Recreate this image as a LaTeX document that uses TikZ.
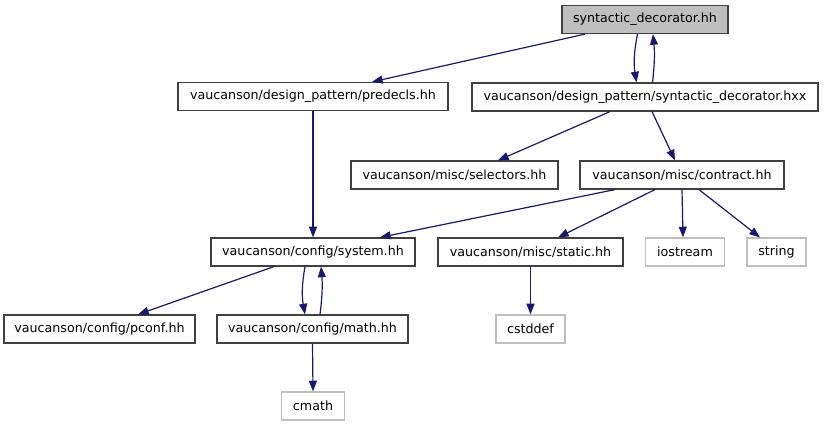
\documentclass[tikz,border=0pt]{standalone}
\usepackage{fontspec}
\setmainfont{DejaVu Sans}
\usetikzlibrary{arrows.meta,calc}
\definecolor{edgeblue}{HTML}{191970}
\definecolor{boxline}{HTML}{404040}
\definecolor{extline}{HTML}{BFBFBF}
\definecolor{rootfill}{HTML}{BFBFBF}
\tikzset{
  box/.style={draw=boxline,line width=0.9pt,rectangle,inner sep=0pt,minimum height=21pt,font=\fontsize{9.5pt}{11pt}\selectfont},
  extbox/.style={box,draw=extline},
  rootbox/.style={box,fill=rootfill},
  edge/.style={draw=edgeblue,line width=0.9pt,-{Triangle[length=8pt,width=6pt]}}
}
\begin{document}
\begin{tikzpicture}[x=0.75pt,y=-0.75pt]
\useasboundingbox (0,0) rectangle (824,427);
\node[rootbox,minimum width=166*0.75pt] (sd) at (645,19.5) {syntactic\_decorator.hh};
\node[box,minimum width=270*0.75pt] (pre) at (313,96.5) {vaucanson/design\_pattern/predecls.hh};
\node[box,minimum width=346*0.75pt] (hxx) at (645,97) {vaucanson/design\_pattern/syntactic\_decorator.hxx};
\node[box,minimum width=207*0.75pt] (sel) at (454.5,175) {vaucanson/misc/selectors.hh};
\node[box,minimum width=204*0.75pt] (con) at (682,175) {vaucanson/misc/contract.hh};
\node[box,minimum width=204*0.75pt] (sys) at (313,252) {vaucanson/config/system.hh};
\node[box,minimum width=185*0.75pt] (sta) at (530.5,252) {vaucanson/misc/static.hh};
\node[extbox,minimum width=79*0.75pt] (ios) at (685,252) {iostream};
\node[extbox,minimum width=59*0.75pt] (str) at (776.5,252) {string};
\node[box,minimum width=191*0.75pt] (pco) at (99.5,329) {vaucanson/config/pconf.hh};
\node[box,minimum width=191*0.75pt] (mat) at (312.5,329) {vaucanson/config/math.hh};
\node[extbox,minimum width=69*0.75pt] (cst) at (530.5,329) {cstddef};
\node[extbox,minimum width=63*0.75pt] (cma) at (313,406) {cmath};

\draw[edge] ($(sd.south)+(-60,0)$) -- ($(pre.north)+(59,0)$);
\draw[edge] ($(sd.south)+(-7.5,0)$) to[bend right=10] ($(hxx.north)+(-8.5,0)$);
\draw[edge] ($(hxx.north)+(7.5,0)$) to[bend right=6] ($(sd.south)+(8,0)$);
\draw[edge] ($(hxx.south)+(-35,0)$) -- ($(sel.north)+(43.5,0)$);
\draw[edge] ($(hxx.south)+(7,0)$) -- ($(con.north)+(-7,0)$);
\draw[edge] ($(con.south)+(-67,0)$) -- ($(sys.north)+(67,0)$);
\draw[edge] ($(con.south)+(-27,0)$) -- ($(sta.north)+(27.5,0)$);
\draw[edge] (con.south) -- ($(ios.north)+(-2,0)$);
\draw[edge] ($(con.south)+(17,0)$) -- ($(str.north)+(-16.5,0)$);
\draw[edge] (pre.south) -- (sys.north);
\draw[edge] ($(sys.south)+(-39,0)$) -- ($(pco.north)+(38.5,0)$);
\draw[edge] ($(sys.south)+(-8,0)$) to[bend right=10] ($(mat.north)+(-7.5,0)$);
\draw[edge] ($(mat.north)+(7.5,0)$) to[bend right=6] ($(sys.south)+(8,0)$);
\draw[edge] (mat.south) -- (cma.north);
\draw[edge] (sta.south) -- (cst.north);
\end{tikzpicture}
\end{document}
